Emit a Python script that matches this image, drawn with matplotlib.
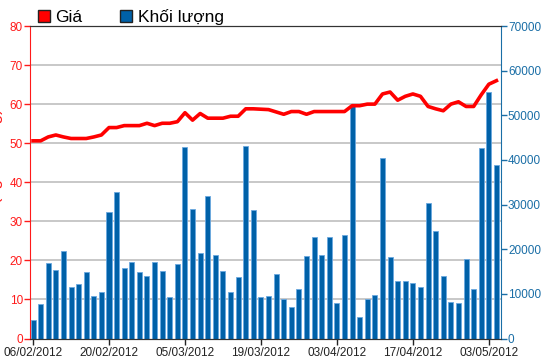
import matplotlib
matplotlib.use('Agg')
import matplotlib.pyplot as plt
from matplotlib.patches import Patch
import numpy as np

plt.rcParams['font.family'] = ['Liberation Sans', 'DejaVu Sans']

# ---------------------------------------------------------------------------
#  data, one entry per trading day
# ---------------------------------------------------------------------------
gia = [50.6, 50.6, 51.6, 52.1, 51.6, 51.2, 51.2, 51.2, 51.6, 52.1,
       54.0, 54.0, 54.5, 54.5, 54.5, 55.1, 54.5, 55.1, 55.1, 55.5,
       57.8, 55.9, 57.6, 56.4, 56.4, 56.4, 56.9, 56.9, 58.8, 58.8,
       58.7, 58.6, 58.0, 57.4, 58.1, 58.1, 57.4, 58.1, 58.1, 58.1,
       58.1, 58.1, 59.6, 59.6, 60.0, 60.0, 62.6, 63.1, 61.0, 62.0,
       62.6, 62.0, 59.4, 58.8, 58.3, 60.0, 60.6, 59.4, 59.4, 62.4,
       65.1, 66.0]

khoi_luong = [4200, 7700, 16900, 15400, 19600, 11500, 12200, 14900, 9500, 10400,
              28300, 32800, 15700, 17100, 14900, 14000, 17100, 15200, 9200, 16600,
              42900, 29100, 19100, 31900, 18800, 15100, 10400, 13800, 43100, 28800,
              9200, 9500, 14500, 8900, 7100, 11200, 18500, 22700, 18800, 22700,
              7900, 23100, 52400, 4800, 8800, 9800, 40400, 18300, 12900, 12900,
              12400, 11500, 30300, 24100, 14000, 8200, 7900, 17900, 11000, 42600,
              55200, 38900]

tick_idx = [0, 10, 20, 30, 40, 50, 60]
tick_labels = ['06/02/2012', '20/02/2012', '05/03/2012', '19/03/2012',
               '03/04/2012', '17/04/2012', '03/05/2012']

gia_ticks = np.arange(0, 81, 10)
kl_ticks = np.arange(0, 70001, 10000)

red = '#ff1a1a'
blue = '#1a6ea6'

x = np.arange(len(gia))

fig = plt.figure(figsize=(5.5, 3.64), dpi=100)
ax = fig.add_axes([30 / 550, 1 - 338.5 / 364, 471 / 550, 312.5 / 364])
axv = ax.twinx()
ax.set_zorder(axv.get_zorder() + 1)
ax.patch.set_visible(False)

# volume bars (right axis), grid lines behind them
for g in gia_ticks[1:-1]:
    axv.axhline(g * 70000 / 80, color='#c8c8c8', lw=1.4, zorder=0)
axv.bar(x, khoi_luong, width=0.66, color='#0061a8', edgecolor='#6aa8e0',
        linewidth=0.6, zorder=2)
axv.set_ylim(0, 70000)
axv.set_yticks(kl_ticks)
axv.set_yticklabels([str(v) for v in kl_ticks])

# price line (left axis)
ax.plot(x, gia, color='#ff0000', lw=2.6, solid_joinstyle='round', zorder=3)
ax.set_ylim(0, 80)
ax.set_yticks(gia_ticks)
ax.set_xlim(-0.4, 61.6)
ax.set_xticks(tick_idx)
ax.set_xticklabels(tick_labels)

ax.tick_params(axis='y', colors=red, labelsize=8.5, length=4, width=1, pad=1)
axv.tick_params(axis='y', colors=blue, labelsize=8.5, length=4, width=1, pad=1)
ax.tick_params(axis='x', colors='#222222', labelsize=8.5, length=4, width=1, pad=2)

for a in (ax, axv):
    a.spines['top'].set_color('#333333')
    a.spines['bottom'].set_color('#333333')
ax.spines['left'].set_color(red)
ax.spines['right'].set_visible(False)
axv.spines['left'].set_visible(False)
axv.spines['right'].set_color(blue)

# y label, only its edge shows at the left border as in the original
fig.text(-0.0095, 0.53, 'Giá (nghìn đồng)', rotation=90, color=red,
         fontsize=12, ha='center', va='center')

handles = [Patch(facecolor='#ff0000', edgecolor='#222222', label='Giá'),
           Patch(facecolor='#0061a8', edgecolor='#222222', label='Khối lượng')]
fig.legend(handles=handles, loc='upper left', bbox_to_anchor=(0.04, 1.018),
           ncol=2, frameon=False, fontsize=12.5, handlelength=0.7,
           handleheight=0.75, handletextpad=0.3, columnspacing=2.2)

fig.savefig('out.png', dpi=100)
